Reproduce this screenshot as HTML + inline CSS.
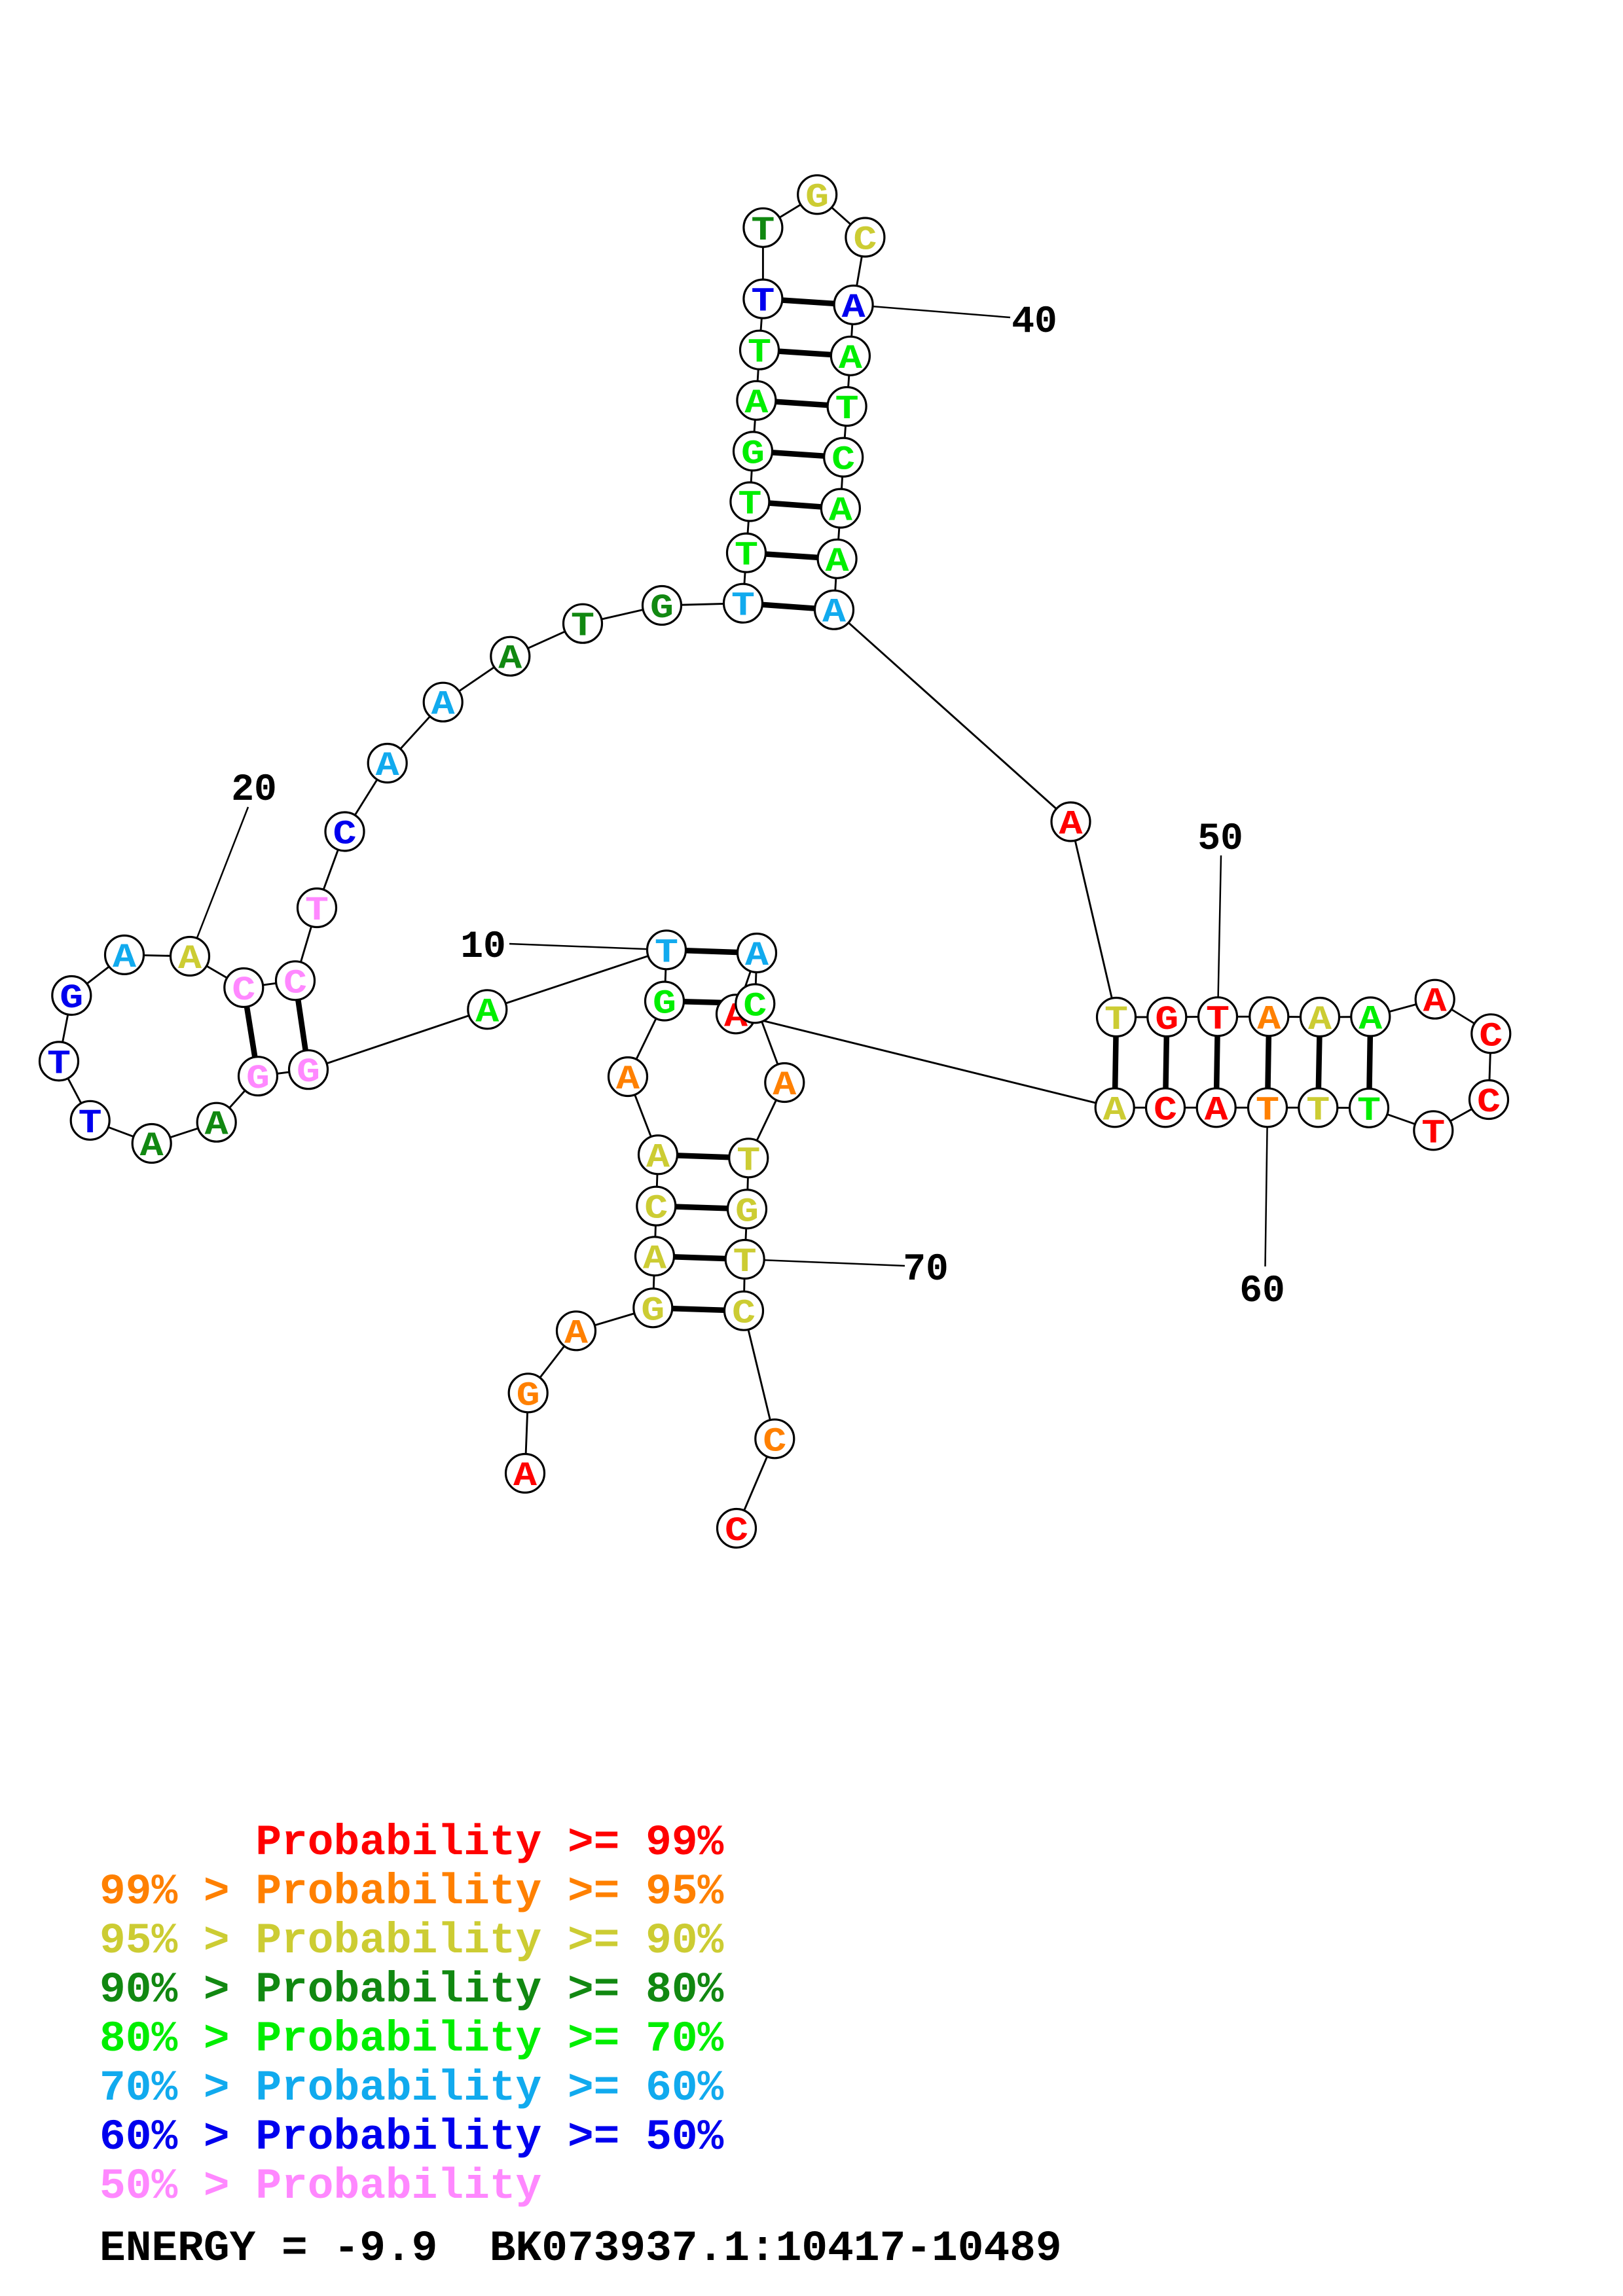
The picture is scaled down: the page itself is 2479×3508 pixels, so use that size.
<!DOCTYPE html>
<html>
<head>
<meta charset="utf-8">
<style>
  html, body { margin: 0; padding: 0; background: #ffffff; }
  svg { display: block; }
  .n { font-family: "Liberation Mono", monospace; font-weight: bold; font-size: 52px; text-anchor: middle; }
  .lab { font-family: "Liberation Mono", monospace; font-weight: bold; font-size: 58px; text-anchor: middle; fill: #000; }
  .leg { font-family: "Liberation Mono", monospace; font-weight: bold; font-size: 66.2px; white-space: pre; }
  circle { fill: #fff; stroke: #000; stroke-width: 3.2; }
</style>
</head>
<body>
<svg width="2479" height="3508" viewBox="0 0 2479 3508" xmlns="http://www.w3.org/2000/svg">
<rect x="0" y="0" width="2479" height="3508" fill="#fff"/>

<!-- label lines -->
<g stroke="#000" stroke-width="2.5" fill="none">
  <line x1="778" y1="1442" x2="1018" y2="1451.3"/>
  <line x1="379" y1="1233" x2="290" y2="1461"/>
  <line x1="1543" y1="485" x2="1303.6" y2="465.8"/>
  <line x1="1865" y1="1307" x2="1860" y2="1553.3"/>
  <line x1="1936" y1="1692.3" x2="1932.5" y2="1935"/>
  <line x1="1137.7" y1="1924" x2="1382" y2="1934"/>
</g>

<!-- backbone -->
<polyline fill="none" stroke="#000" stroke-width="2.9" stroke-linejoin="round" points="802,2251 806.7,2128.3 880,2033.3 997.3,1998.3 1000,1919.3 1002.3,1842.7 1005,1764.3 959,1645 1015,1529.5 1018,1451.3 744.3,1542.3 471,1634.2 394,1644.2 330.7,1714.7 231.7,1747 137.7,1711.8 90,1621.4 109.3,1521 190,1458.9 290,1461 372.3,1509 451,1498.3 484,1387 526.5,1270.5 591.7,1166 676.7,1072.7 779.3,1002.7 890,952.7 1011,925 1135,921.7 1140,844.6 1145.4,766.5 1150,689.4 1155.4,611.8 1160,534.7 1165.4,456.6 1165.4,347.8 1248.2,297.3 1321.4,362.5 1303.6,465.8 1298.9,543.8 1293.6,621 1288.2,698.6 1283.9,776.6 1278.6,853.8 1274,931.7 1635.5,1255.5 1705,1554 1782.3,1554 1860,1553.3 1938.3,1553.3 2016,1554 2093.3,1553.5 2191.7,1526.7 2277.3,1579.3 2274,1680 2189.3,1727.3 2091,1692.8 2013.3,1692.3 1936,1692.3 1857.7,1692.3 1780,1692.3 1702.7,1692.3 1124,1549.3 1156,1456 1153.3,1533.3 1198.3,1654 1143.3,1769.3 1141,1847.3 1137.7,1924 1136,2002.7 1183.3,2198.3 1125,2335"/>

<!-- base pairs -->
<g stroke="#000" stroke-width="8.5" stroke-linecap="butt">
  <line x1="997.3" y1="1998.3" x2="1136" y2="2002.7"/>
  <line x1="1000" y1="1919.3" x2="1137.7" y2="1924"/>
  <line x1="1002.3" y1="1842.7" x2="1141" y2="1847.3"/>
  <line x1="1005" y1="1764.3" x2="1143.3" y2="1769.3"/>
  <line x1="1015" y1="1529.5" x2="1153.3" y2="1533.3"/>
  <line x1="1018" y1="1451.3" x2="1156" y2="1456"/>
  <line x1="471" y1="1634.2" x2="451" y2="1498.3"/>
  <line x1="394" y1="1644.2" x2="372.3" y2="1509"/>
  <line x1="1135" y1="921.7" x2="1274" y2="931.7"/>
  <line x1="1140" y1="844.6" x2="1278.6" y2="853.8"/>
  <line x1="1145.4" y1="766.5" x2="1283.9" y2="776.6"/>
  <line x1="1150" y1="689.4" x2="1288.2" y2="698.6"/>
  <line x1="1155.4" y1="611.8" x2="1293.6" y2="621"/>
  <line x1="1160" y1="534.7" x2="1298.9" y2="543.8"/>
  <line x1="1165.4" y1="456.6" x2="1303.6" y2="465.8"/>
  <line x1="1705" y1="1554" x2="1702.7" y2="1692.3"/>
  <line x1="1782.3" y1="1554" x2="1780" y2="1692.3"/>
  <line x1="1860" y1="1553.3" x2="1857.7" y2="1692.3"/>
  <line x1="1938.3" y1="1553.3" x2="1936" y2="1692.3"/>
  <line x1="2016" y1="1554" x2="2013.3" y2="1692.3"/>
  <line x1="2093.3" y1="1553.5" x2="2091" y2="1692.8"/>
</g>

<!-- nodes -->
<g>
<circle cx="802" cy="2251" r="29.5"/><text class="n" x="802" y="2269" fill="#ff0000" textLength="36" lengthAdjust="spacingAndGlyphs">A</text>
<circle cx="806.7" cy="2128.3" r="29.5"/><text class="n" x="806.7" y="2146.3" fill="#ff8000" textLength="36" lengthAdjust="spacingAndGlyphs">G</text>
<circle cx="880" cy="2033.3" r="29.5"/><text class="n" x="880" y="2051.3" fill="#ff8000" textLength="36" lengthAdjust="spacingAndGlyphs">A</text>
<circle cx="997.3" cy="1998.3" r="29.5"/><text class="n" x="997.3" y="2016.3" fill="#cccc33" textLength="36" lengthAdjust="spacingAndGlyphs">G</text>
<circle cx="1000" cy="1919.3" r="29.5"/><text class="n" x="1000" y="1937.3" fill="#cccc33" textLength="36" lengthAdjust="spacingAndGlyphs">A</text>
<circle cx="1002.3" cy="1842.7" r="29.5"/><text class="n" x="1002.3" y="1860.7" fill="#cccc33" textLength="36" lengthAdjust="spacingAndGlyphs">C</text>
<circle cx="1005" cy="1764.3" r="29.5"/><text class="n" x="1005" y="1782.3" fill="#cccc33" textLength="36" lengthAdjust="spacingAndGlyphs">A</text>
<circle cx="959" cy="1645" r="29.5"/><text class="n" x="959" y="1663" fill="#ff8000" textLength="36" lengthAdjust="spacingAndGlyphs">A</text>
<circle cx="1015" cy="1529.5" r="29.5"/><text class="n" x="1015" y="1547.5" fill="#00ee00" textLength="36" lengthAdjust="spacingAndGlyphs">G</text>
<circle cx="1018" cy="1451.3" r="29.5"/><text class="n" x="1018" y="1469.3" fill="#11aaee" textLength="36" lengthAdjust="spacingAndGlyphs">T</text>
<circle cx="744.3" cy="1542.3" r="29.5"/><text class="n" x="744.3" y="1560.3" fill="#00ee00" textLength="36" lengthAdjust="spacingAndGlyphs">A</text>
<circle cx="471" cy="1634.2" r="29.5"/><text class="n" x="471" y="1652.2" fill="#ff88ff" textLength="36" lengthAdjust="spacingAndGlyphs">G</text>
<circle cx="394" cy="1644.2" r="29.5"/><text class="n" x="394" y="1662.2" fill="#ff88ff" textLength="36" lengthAdjust="spacingAndGlyphs">G</text>
<circle cx="330.7" cy="1714.7" r="29.5"/><text class="n" x="330.7" y="1732.7" fill="#118811" textLength="36" lengthAdjust="spacingAndGlyphs">A</text>
<circle cx="231.7" cy="1747" r="29.5"/><text class="n" x="231.7" y="1765" fill="#118811" textLength="36" lengthAdjust="spacingAndGlyphs">A</text>
<circle cx="137.7" cy="1711.8" r="29.5"/><text class="n" x="137.7" y="1729.8" fill="#0000ee" textLength="36" lengthAdjust="spacingAndGlyphs">T</text>
<circle cx="90" cy="1621.4" r="29.5"/><text class="n" x="90" y="1639.4" fill="#0000ee" textLength="36" lengthAdjust="spacingAndGlyphs">T</text>
<circle cx="109.3" cy="1521" r="29.5"/><text class="n" x="109.3" y="1539" fill="#0000ee" textLength="36" lengthAdjust="spacingAndGlyphs">G</text>
<circle cx="190" cy="1458.9" r="29.5"/><text class="n" x="190" y="1476.9" fill="#11aaee" textLength="36" lengthAdjust="spacingAndGlyphs">A</text>
<circle cx="290" cy="1461" r="29.5"/><text class="n" x="290" y="1479" fill="#cccc33" textLength="36" lengthAdjust="spacingAndGlyphs">A</text>
<circle cx="372.3" cy="1509" r="29.5"/><text class="n" x="372.3" y="1527" fill="#ff88ff" textLength="36" lengthAdjust="spacingAndGlyphs">C</text>
<circle cx="451" cy="1498.3" r="29.5"/><text class="n" x="451" y="1516.3" fill="#ff88ff" textLength="36" lengthAdjust="spacingAndGlyphs">C</text>
<circle cx="484" cy="1387" r="29.5"/><text class="n" x="484" y="1405" fill="#ff88ff" textLength="36" lengthAdjust="spacingAndGlyphs">T</text>
<circle cx="526.5" cy="1270.5" r="29.5"/><text class="n" x="526.5" y="1288.5" fill="#0000ee" textLength="36" lengthAdjust="spacingAndGlyphs">C</text>
<circle cx="591.7" cy="1166" r="29.5"/><text class="n" x="591.7" y="1184" fill="#11aaee" textLength="36" lengthAdjust="spacingAndGlyphs">A</text>
<circle cx="676.7" cy="1072.7" r="29.5"/><text class="n" x="676.7" y="1090.7" fill="#11aaee" textLength="36" lengthAdjust="spacingAndGlyphs">A</text>
<circle cx="779.3" cy="1002.7" r="29.5"/><text class="n" x="779.3" y="1020.7" fill="#118811" textLength="36" lengthAdjust="spacingAndGlyphs">A</text>
<circle cx="890" cy="952.7" r="29.5"/><text class="n" x="890" y="970.7" fill="#118811" textLength="36" lengthAdjust="spacingAndGlyphs">T</text>
<circle cx="1011" cy="925" r="29.5"/><text class="n" x="1011" y="943" fill="#118811" textLength="36" lengthAdjust="spacingAndGlyphs">G</text>
<circle cx="1135" cy="921.7" r="29.5"/><text class="n" x="1135" y="939.7" fill="#11aaee" textLength="36" lengthAdjust="spacingAndGlyphs">T</text>
<circle cx="1140" cy="844.6" r="29.5"/><text class="n" x="1140" y="862.6" fill="#00ee00" textLength="36" lengthAdjust="spacingAndGlyphs">T</text>
<circle cx="1145.4" cy="766.5" r="29.5"/><text class="n" x="1145.4" y="784.5" fill="#00ee00" textLength="36" lengthAdjust="spacingAndGlyphs">T</text>
<circle cx="1150" cy="689.4" r="29.5"/><text class="n" x="1150" y="707.4" fill="#00ee00" textLength="36" lengthAdjust="spacingAndGlyphs">G</text>
<circle cx="1155.4" cy="611.8" r="29.5"/><text class="n" x="1155.4" y="629.8" fill="#00ee00" textLength="36" lengthAdjust="spacingAndGlyphs">A</text>
<circle cx="1160" cy="534.7" r="29.5"/><text class="n" x="1160" y="552.7" fill="#00ee00" textLength="36" lengthAdjust="spacingAndGlyphs">T</text>
<circle cx="1165.4" cy="456.6" r="29.5"/><text class="n" x="1165.4" y="474.6" fill="#0000ee" textLength="36" lengthAdjust="spacingAndGlyphs">T</text>
<circle cx="1165.4" cy="347.8" r="29.5"/><text class="n" x="1165.4" y="365.8" fill="#118811" textLength="36" lengthAdjust="spacingAndGlyphs">T</text>
<circle cx="1248.2" cy="297.3" r="29.5"/><text class="n" x="1248.2" y="315.3" fill="#cccc33" textLength="36" lengthAdjust="spacingAndGlyphs">G</text>
<circle cx="1321.4" cy="362.5" r="29.5"/><text class="n" x="1321.4" y="380.5" fill="#cccc33" textLength="36" lengthAdjust="spacingAndGlyphs">C</text>
<circle cx="1303.6" cy="465.8" r="29.5"/><text class="n" x="1303.6" y="483.8" fill="#0000ee" textLength="36" lengthAdjust="spacingAndGlyphs">A</text>
<circle cx="1298.9" cy="543.8" r="29.5"/><text class="n" x="1298.9" y="561.8" fill="#00ee00" textLength="36" lengthAdjust="spacingAndGlyphs">A</text>
<circle cx="1293.6" cy="621" r="29.5"/><text class="n" x="1293.6" y="639" fill="#00ee00" textLength="36" lengthAdjust="spacingAndGlyphs">T</text>
<circle cx="1288.2" cy="698.6" r="29.5"/><text class="n" x="1288.2" y="716.6" fill="#00ee00" textLength="36" lengthAdjust="spacingAndGlyphs">C</text>
<circle cx="1283.9" cy="776.6" r="29.5"/><text class="n" x="1283.9" y="794.6" fill="#00ee00" textLength="36" lengthAdjust="spacingAndGlyphs">A</text>
<circle cx="1278.6" cy="853.8" r="29.5"/><text class="n" x="1278.6" y="871.8" fill="#00ee00" textLength="36" lengthAdjust="spacingAndGlyphs">A</text>
<circle cx="1274" cy="931.7" r="29.5"/><text class="n" x="1274" y="949.7" fill="#11aaee" textLength="36" lengthAdjust="spacingAndGlyphs">A</text>
<circle cx="1635.5" cy="1255.5" r="29.5"/><text class="n" x="1635.5" y="1273.5" fill="#ff0000" textLength="36" lengthAdjust="spacingAndGlyphs">A</text>
<circle cx="1705" cy="1554" r="29.5"/><text class="n" x="1705" y="1572" fill="#cccc33" textLength="36" lengthAdjust="spacingAndGlyphs">T</text>
<circle cx="1782.3" cy="1554" r="29.5"/><text class="n" x="1782.3" y="1572" fill="#ff0000" textLength="36" lengthAdjust="spacingAndGlyphs">G</text>
<circle cx="1860" cy="1553.3" r="29.5"/><text class="n" x="1860" y="1571.3" fill="#ff0000" textLength="36" lengthAdjust="spacingAndGlyphs">T</text>
<circle cx="1938.3" cy="1553.3" r="29.5"/><text class="n" x="1938.3" y="1571.3" fill="#ff8000" textLength="36" lengthAdjust="spacingAndGlyphs">A</text>
<circle cx="2016" cy="1554" r="29.5"/><text class="n" x="2016" y="1572" fill="#cccc33" textLength="36" lengthAdjust="spacingAndGlyphs">A</text>
<circle cx="2093.3" cy="1553.5" r="29.5"/><text class="n" x="2093.3" y="1571.5" fill="#00ee00" textLength="36" lengthAdjust="spacingAndGlyphs">A</text>
<circle cx="2191.7" cy="1526.7" r="29.5"/><text class="n" x="2191.7" y="1544.7" fill="#ff0000" textLength="36" lengthAdjust="spacingAndGlyphs">A</text>
<circle cx="2277.3" cy="1579.3" r="29.5"/><text class="n" x="2277.3" y="1597.3" fill="#ff0000" textLength="36" lengthAdjust="spacingAndGlyphs">C</text>
<circle cx="2274" cy="1680" r="29.5"/><text class="n" x="2274" y="1698" fill="#ff0000" textLength="36" lengthAdjust="spacingAndGlyphs">C</text>
<circle cx="2189.3" cy="1727.3" r="29.5"/><text class="n" x="2189.3" y="1745.3" fill="#ff0000" textLength="36" lengthAdjust="spacingAndGlyphs">T</text>
<circle cx="2091" cy="1692.8" r="29.5"/><text class="n" x="2091" y="1710.8" fill="#00ee00" textLength="36" lengthAdjust="spacingAndGlyphs">T</text>
<circle cx="2013.3" cy="1692.3" r="29.5"/><text class="n" x="2013.3" y="1710.3" fill="#cccc33" textLength="36" lengthAdjust="spacingAndGlyphs">T</text>
<circle cx="1936" cy="1692.3" r="29.5"/><text class="n" x="1936" y="1710.3" fill="#ff8000" textLength="36" lengthAdjust="spacingAndGlyphs">T</text>
<circle cx="1857.7" cy="1692.3" r="29.5"/><text class="n" x="1857.7" y="1710.3" fill="#ff0000" textLength="36" lengthAdjust="spacingAndGlyphs">A</text>
<circle cx="1780" cy="1692.3" r="29.5"/><text class="n" x="1780" y="1710.3" fill="#ff0000" textLength="36" lengthAdjust="spacingAndGlyphs">C</text>
<circle cx="1702.7" cy="1692.3" r="29.5"/><text class="n" x="1702.7" y="1710.3" fill="#cccc33" textLength="36" lengthAdjust="spacingAndGlyphs">A</text>
<circle cx="1124" cy="1549.3" r="29.5"/><text class="n" x="1124" y="1567.3" fill="#ff0000" textLength="36" lengthAdjust="spacingAndGlyphs">A</text>
<circle cx="1156" cy="1456" r="29.5"/><text class="n" x="1156" y="1474" fill="#11aaee" textLength="36" lengthAdjust="spacingAndGlyphs">A</text>
<circle cx="1153.3" cy="1533.3" r="29.5"/><text class="n" x="1153.3" y="1551.3" fill="#00ee00" textLength="36" lengthAdjust="spacingAndGlyphs">C</text>
<circle cx="1198.3" cy="1654" r="29.5"/><text class="n" x="1198.3" y="1672" fill="#ff8000" textLength="36" lengthAdjust="spacingAndGlyphs">A</text>
<circle cx="1143.3" cy="1769.3" r="29.5"/><text class="n" x="1143.3" y="1787.3" fill="#cccc33" textLength="36" lengthAdjust="spacingAndGlyphs">T</text>
<circle cx="1141" cy="1847.3" r="29.5"/><text class="n" x="1141" y="1865.3" fill="#cccc33" textLength="36" lengthAdjust="spacingAndGlyphs">G</text>
<circle cx="1137.7" cy="1924" r="29.5"/><text class="n" x="1137.7" y="1942" fill="#cccc33" textLength="36" lengthAdjust="spacingAndGlyphs">T</text>
<circle cx="1136" cy="2002.7" r="29.5"/><text class="n" x="1136" y="2020.7" fill="#cccc33" textLength="36" lengthAdjust="spacingAndGlyphs">C</text>
<circle cx="1183.3" cy="2198.3" r="29.5"/><text class="n" x="1183.3" y="2216.3" fill="#ff8000" textLength="36" lengthAdjust="spacingAndGlyphs">C</text>
<circle cx="1125" cy="2335" r="29.5"/><text class="n" x="1125" y="2353" fill="#ff0000" textLength="36" lengthAdjust="spacingAndGlyphs">C</text>
</g>

<!-- position labels -->
<text class="lab" x="738" y="1462">10</text>
<text class="lab" x="388" y="1222">20</text>
<text class="lab" x="1580" y="507">40</text>
<text class="lab" x="1864" y="1297">50</text>
<text class="lab" x="1928" y="1988">60</text>
<text class="lab" x="1414" y="1955">70</text>

<!-- legend -->
<text class="leg" x="152" y="2833" fill="#ff0000" xml:space="preserve">      Probability &gt;= 99%</text>
<text class="leg" x="152" y="2908" fill="#ff8000" xml:space="preserve">99% &gt; Probability &gt;= 95%</text>
<text class="leg" x="152" y="2983" fill="#cccc33" xml:space="preserve">95% &gt; Probability &gt;= 90%</text>
<text class="leg" x="152" y="3058" fill="#118811" xml:space="preserve">90% &gt; Probability &gt;= 80%</text>
<text class="leg" x="152" y="3133" fill="#00ee00" xml:space="preserve">80% &gt; Probability &gt;= 70%</text>
<text class="leg" x="152" y="3208" fill="#11aaee" xml:space="preserve">70% &gt; Probability &gt;= 60%</text>
<text class="leg" x="152" y="3283" fill="#0000ee" xml:space="preserve">60% &gt; Probability &gt;= 50%</text>
<text class="leg" x="152" y="3358" fill="#ff88ff" xml:space="preserve">50% &gt; Probability</text>
<text class="leg" x="152" y="3453" fill="#000000" xml:space="preserve">ENERGY = -9.9  BK073937.1:10417-10489</text>
</svg>
</body>
</html>
